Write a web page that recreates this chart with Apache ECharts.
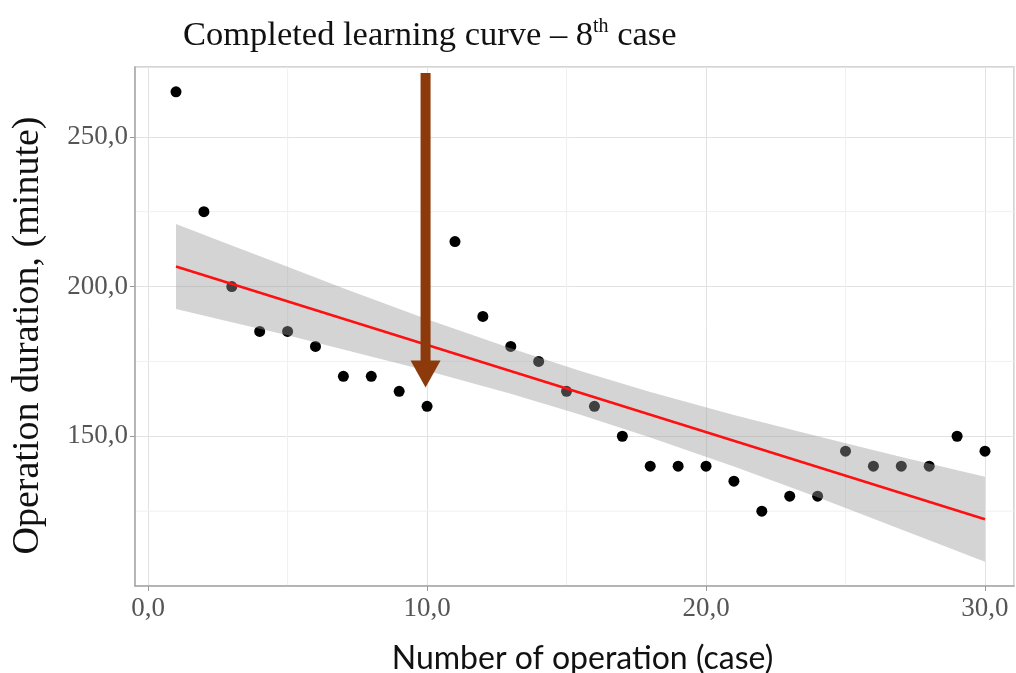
<!DOCTYPE html>
<html>
<head>
<meta charset="utf-8">
<script src="https://cdn.jsdelivr.net/npm/echarts@6/dist/echarts.min.js"></script>
<style>html,body{margin:0;padding:0;background:#fff;}#main{width:1016px;height:673px;}</style>
</head>
<body>
<div id="main"></div>
<script>
// Data
var caseNo = [1,2,3,4,5,6,7,8,9,10,11,12,13,14,15,16,17,18,19,20,21,22,23,24,25,26,27,28,29,30];
var durations = [265,225,200,185,185,180,170,170,165,160,215,190,180,175,165,160,150,140,140,140,135,125,130,130,145,140,140,140,150,145];
var fitX = [1, 30];
var fitY = [206.7, 122.3];
var bandX = [1, 3, 5, 7, 10, 13, 15.5, 18, 21, 24, 27, 30];
var bandUpper = [220.9, 213.7, 206.6, 199.4, 189.1, 179.4, 171.8, 164.8, 157.1, 150.0, 143.1, 136.5];
var bandLower = [192.5, 188.1, 183.7, 179.0, 171.9, 164.2, 157.2, 149.6, 139.9, 129.6, 118.9, 108.1];
var arrowX = [10];
var arrowTop = [271.3];
var arrowTip = [166.3];
var xMinorGrid = [5, 15, 25];
var yMinorGrid = [125, 175, 225];

var scatterData = caseNo.map(function (c, i) { return [c, durations[i]]; });
var fitData = fitX.map(function (x, i) { return [x, fitY[i]]; });
var bandData = bandX.map(function (x, i) { return [x, bandUpper[i], bandLower[i]]; });
var arrowData = arrowX.map(function (x, i) { return [x, arrowTop[i], arrowTip[i]]; });
var minorData = xMinorGrid.map(function (v) { return ['x', v]; }).concat(yMinorGrid.map(function (v) { return ['y', v]; }));

function fmt(v) { return v.toFixed(1).replace('.', ','); }

var serif = '"Liberation Serif", "DejaVu Serif", serif';
var chart = echarts.init(document.getElementById('main'), null, {renderer: 'canvas'});
chart.setOption({
  animation: false,
  backgroundColor: '#ffffff',
  title: {
    text: '{a|Completed learning curve \u2013 8}{s|th}{a| case}',
    left: 178, top: 12,
    textStyle: {
      fontWeight: 'normal',
      rich: {
        a: {fontFamily: serif, fontSize: 34.5, fontWeight: 'normal', color: '#111', lineHeight: 38},
        s: {fontFamily: serif, fontSize: 20, fontWeight: 'normal', color: '#111', verticalAlign: 'top', lineHeight: 38, padding: [0, 0, 12, 0]}
      }
    }
  },
  grid: {left: 135, right: 2, top: 67, bottom: 87, show: true, borderColor: '#c6c6c6', borderWidth: 1.5,
    containLabel: false, outerBoundsMode: 'none'},
  xAxis: {
    type: 'value', min: -0.47, max: 31.04, splitNumber: 3,
    name: 'Number of operation (case)', nameLocation: 'middle', nameGap: 57,
    nameTextStyle: {fontFamily: 'Lato, "Open Sans", sans-serif', fontSize: 32, color: '#111', padding: [0, 0, 0, 16]},
    axisLine: {show: true, onZero: false, lineStyle: {color: '#a8a8a8', width: 1.5}},
    axisTick: {show: true, length: 5, lineStyle: {color: '#999'}},
    axisLabel: {fontFamily: serif, fontSize: 27, color: '#555', margin: 9, showMinLabel: false, showMaxLabel: false,
      formatter: function (v) { return fmt(v); }},
    splitLine: {show: true, lineStyle: {color: '#e2e2e2', width: 1}}
  },
  yAxis: {
    type: 'value', min: 100, max: 273.3, interval: 50,
    name: 'Operation duration, (minute)', nameLocation: 'middle', nameGap: 88,
    nameTextStyle: {fontFamily: serif, fontSize: 38, color: '#111', padding: [0, 18, 0, 0]},
    axisLine: {show: true, onZero: false, lineStyle: {color: '#a8a8a8', width: 1.5}},
    axisTick: {show: true, length: 5, lineStyle: {color: '#999'}},
    axisLabel: {fontFamily: serif, fontSize: 27, color: '#555', margin: 7, showMinLabel: false, showMaxLabel: false,
      formatter: function (v) { return fmt(v); }},
    splitLine: {show: true, lineStyle: {color: '#e2e2e2', width: 1}}
  },
  series: [
    {
      type: 'custom', data: minorData, silent: true, z: 0,
      encode: {x: 1},
      renderItem: function (params, api) {
        var cs = params.coordSys;
        var d = minorData[params.dataIndex];
        var shape;
        if (d[0] === 'x') {
          var px = api.coord([d[1], 200])[0];
          shape = {x1: px, y1: cs.y, x2: px, y2: cs.y + cs.height};
        } else {
          var py = api.coord([0, d[1]])[1];
          shape = {x1: cs.x, y1: py, x2: cs.x + cs.width, y2: py};
        }
        return {type: 'line', shape: shape, style: {stroke: '#f0f0f0', lineWidth: 1}};
      }
    },
    {
      type: 'scatter', data: scatterData, symbolSize: 11, z: 2, itemStyle: {color: '#000', opacity: 1}
    },
    {
      type: 'custom', data: bandData, silent: true, z: 3,
      renderItem: function (params, api) {
        if (params.dataIndex !== 0) return null;
        var pts = [];
        for (var i = 0; i < bandData.length; i++) pts.push(api.coord([bandData[i][0], bandData[i][1]]));
        for (var j = bandData.length - 1; j >= 0; j--) pts.push(api.coord([bandData[j][0], bandData[j][2]]));
        return {type: 'polygon', shape: {points: pts}, style: {fill: 'rgba(153,153,153,0.42)'}};
      }
    },
    {
      type: 'line', data: fitData, symbol: 'none', z: 4, lineStyle: {color: '#ff1010', width: 2.5}
    },
    {
      type: 'custom', data: arrowData, silent: true, z: 5,
      renderItem: function (params, api) {
        var top = api.coord([api.value(0), api.value(1)]);
        var tip = api.coord([api.value(0), api.value(2)]);
        var headH = 27, headW = 30, shaftW = 10;
        var cx = top[0] - 1.5;
        var col = '#8c3a0b';
        return {type: 'group', children: [
          {type: 'rect', shape: {x: cx - shaftW / 2, y: top[1], width: shaftW, height: tip[1] - headH - top[1] + 1}, style: {fill: col}},
          {type: 'polygon', shape: {points: [[cx - headW / 2, tip[1] - headH], [cx + headW / 2, tip[1] - headH], [cx, tip[1]]]}, style: {fill: col}}
        ]};
      }
    }
  ]
});
</script>
</body>
</html>
